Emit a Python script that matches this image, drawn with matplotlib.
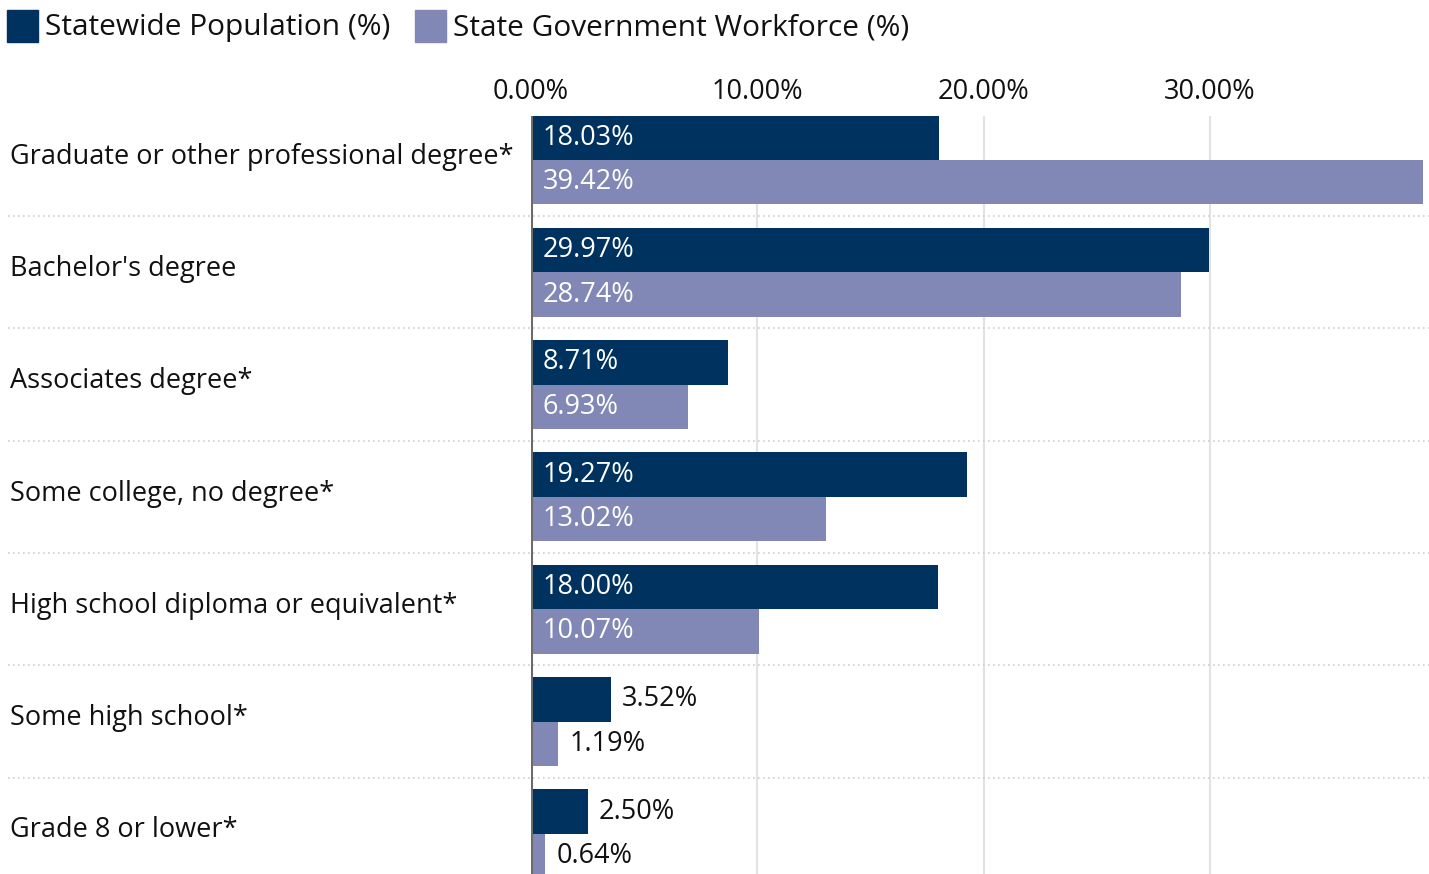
import matplotlib
matplotlib.use("Agg")
import matplotlib.pyplot as plt
import matplotlib.transforms as mtransforms
from matplotlib.patches import Rectangle

categories = [
    "Graduate or other professional degree*",
    "Bachelor's degree",
    "Associates degree*",
    "Some college, no degree*",
    "High school diploma or equivalent*",
    "Some high school*",
    "Grade 8 or lower*",
]
statewide = [18.03, 29.97, 8.71, 19.27, 18.00, 3.52, 2.50]
workforce = [39.42, 28.74, 6.93, 13.02, 10.07, 1.19, 0.64]
series_names = ["Statewide Population (%)", "State Government Workforce (%)"]
xticks = [0, 10, 20, 30]

DARK = "#00325f"
LIGHT = "#8288b6"
FONT = "Open Sans"
plt.rcParams["font.family"] = [FONT, "DejaVu Sans"]

W, H = 1429, 874
fig = plt.figure(figsize=(W / 100, H / 100), dpi=100)
ax = fig.add_axes([531 / W, 0, (1423 - 531) / W, 1 - 116 / H])

bar_h = 0.396
for i, (s, w) in enumerate(zip(statewide, workforce)):
    for val, off, color in ((s, -bar_h / 2, DARK), (w, bar_h / 2, LIGHT)):
        ax.barh(i + off, val, height=bar_h, color=color, zorder=3)
        label = f"{val:.2f}%"
        if val > 5:
            ax.text(0.5, i + off, label, color="white", fontsize=19.5,
                    va="center", ha="left", zorder=4)
        else:
            ax.text(val + 0.5, i + off, label, color="#111111", fontsize=19.5,
                    va="center", ha="left", zorder=4)

ax.set_xlim(0, max(workforce))
ax.set_ylim(len(categories) - 1 + 0.358, -0.392)

# light vertical gridlines and the darker zero line
for t in xticks[1:]:
    ax.axvline(t, color="#e2e2e2", lw=1.5, zorder=1)
ax.axvline(0, color="#6b6b6b", lw=2.2, zorder=5)

# dotted separators between groups, running under the labels too
trans = mtransforms.blended_transform_factory(ax.transAxes, ax.transData)
x_left = (8 - 531) / (1423 - 531)
x_right = (W - 531) / (1423 - 531)
for i in range(len(categories) - 1):
    ax.plot([x_left, x_right], [i + 0.5, i + 0.5], transform=trans,
            color="#cfcfcf", lw=1.2, ls=(0, (1, 2)), clip_on=False, zorder=2)

for i, cat in enumerate(categories):
    ax.text(x_left + 0.002, i - 0.03, cat, transform=trans, fontsize=19.5,
            va="center", ha="left", color="#111111")

ax.set_xticks(xticks)
ax.set_xticklabels([f"{t:.2f}%" for t in xticks])
ax.xaxis.tick_top()
ax.tick_params(axis="x", length=0, pad=7, labelsize=19.5, labelcolor="#111111")
ax.set_yticks([])
for sp in ax.spines.values():
    sp.set_visible(False)

# legend: square swatches with text, drawn in figure pixels
def legend_item(x, label, color):
    fig.patches.append(Rectangle((x / W, 1 - 42 / H), 31 / W, 32 / H,
                                 transform=fig.transFigure, color=color))
    fig.text((x + 38) / W, 1 - 28 / H, label, fontsize=21.5, va="center",
             ha="left", color="#111111")

legend_item(7, series_names[0], DARK)
legend_item(415, series_names[1], LIGHT)

fig.savefig("out.png", dpi=100)
